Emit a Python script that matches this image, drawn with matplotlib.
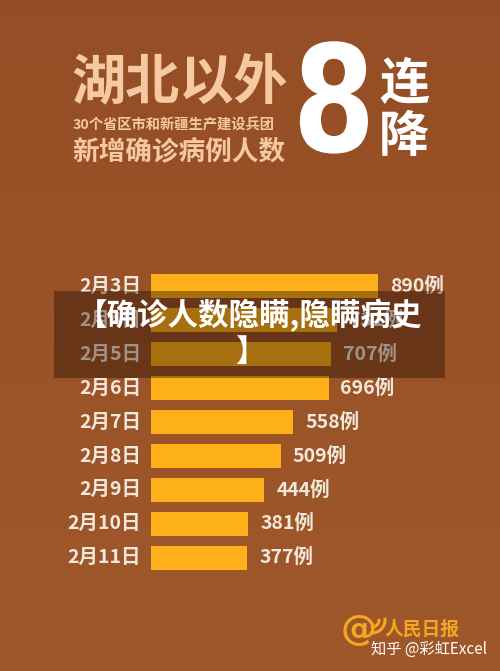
import matplotlib
matplotlib.use('Agg')
import matplotlib.pyplot as plt
import numpy as np
from matplotlib.patches import Rectangle, Arc
from matplotlib.patheffects import AbstractPathEffect
from matplotlib.transforms import Affine2D

plt.rcParams['font.family'] = ['Noto Sans CJK SC', 'DejaVu Sans']

# ---- data ----
dates = ['2月3日', '2月4日', '2月5日', '2月6日', '2月7日', '2月8日', '2月9日', '2月10日', '2月11日']
cases = [890, 731, 707, 696, 558, 509, 444, 381, 377]
value_labels = [f'{v}例' for v in cases]

title_main = '湖北以外'
subtitle1 = '30个省区市和新疆生产建设兵团'
subtitle2 = '新增确诊病例人数'
big_num = '8'
big_word = ['连', '降']
overlay_text = '【确诊人数隐瞒,隐瞒病史\n】'
watermark = '知乎 @彩虹Excel'
logo_text = '人民日报'

W, H = 500, 671
fig = plt.figure(figsize=(5, 6.71), dpi=100)


class SqueezeX(AbstractPathEffect):
    """Horizontally condense a text around display x = cx."""
    def __init__(self, sx, cx):
        super().__init__()
        self.sx = sx
        self.cx = cx

    def draw_path(self, renderer, gc, tpath, affine, rgbFace=None):
        aff = affine + Affine2D().translate(-self.cx, 0).scale(self.sx, 1).translate(self.cx, 0)
        renderer.draw_path(gc, tpath, aff, rgbFace)


# background
bg = fig.add_axes([0, 0, 1, 1])
bg.set_xlim(0, W)
bg.set_ylim(H, 0)
bg.axis('off')
grad = np.linspace(0, 1, 256)[:, None, None]
top = np.array([0.585, 0.305, 0.145])
bot = np.array([0.625, 0.345, 0.165])
img = top + (bot - top) * grad
bg.imshow(img, extent=[0, W, H, 0], aspect='auto', zorder=0)

peach = '#F6C9A2'
bg.text(71, 84, title_main, fontsize=39, color=peach, weight='heavy',
        ha='left', va='center', zorder=2)
bg.text(73, 125, subtitle1, fontsize=10.3, color=peach, weight='bold',
        ha='left', va='center', zorder=2)
bg.text(72, 152, subtitle2, fontsize=19.2, color=peach, weight='bold',
        ha='left', va='center', zorder=2)
bg.text(334, 110, big_num, fontsize=107, color='white', weight='bold',
        family=['DejaVu Sans'], ha='center', va='center', zorder=2,
        path_effects=[SqueezeX(0.8, 334)])
bg.text(404, 84, big_word[0], fontsize=36, color='white', weight='heavy',
        ha='center', va='center', zorder=2)
bg.text(404, 138, big_word[1], fontsize=36, color='white', weight='heavy',
        ha='center', va='center', zorder=2)

# bars axes: x 151..378 px for 0..890, rows centered 286.5 + i*33.9
row = 33.9
top_px = 286.5 - row / 2
bot_px = 286.5 + 8 * row + row / 2
ax = fig.add_axes([151 / W, 1 - bot_px / H, (378 - 151) / W, (bot_px - top_px) / H])
ax.patch.set_alpha(0)
ax.barh(range(len(cases)), cases, height=24 / row, color='#FDB017', zorder=3)
ax.set_xlim(0, 890)
ax.set_ylim(len(cases) - 0.5, -0.5)
ax.axis('off')

label_col = '#F3E8DC'
for i, (d, v, lab) in enumerate(zip(dates, cases, value_labels)):
    ax.annotate(d, xy=(0, i), xytext=(-7.2, 0), textcoords='offset points',
                ha='right', va='center', fontsize=14, weight='bold',
                color=label_col, annotation_clip=False)
    ax.annotate(lab, xy=(v, i), xytext=(8.6, 0), textcoords='offset points',
                ha='left', va='center', fontsize=14, weight='bold',
                color=label_col, annotation_clip=False)

# overlay on top of everything
ov = fig.add_axes([0, 0, 1, 1])
ov.set_xlim(0, W)
ov.set_ylim(H, 0)
ov.axis('off')
ov.patch.set_alpha(0)
ov.add_patch(Rectangle((54, 291), 391, 87, facecolor='#1a0800', alpha=0.38,
                       edgecolor='none'))
ov.text(250, 333, overlay_text, fontsize=22, color='white', weight='bold',
        ha='center', va='center', multialignment='center', linespacing=1.15)

# logo
orange = '#F5A623'
ov.text(359, 630, '@', fontsize=26, color=orange, weight='bold',
        family=['DejaVu Sans'], ha='center', va='center')
ov.add_patch(Arc((372, 620), 14, 14, theta1=-10, theta2=100, color=orange, lw=2.2))
ov.add_patch(Arc((372, 620), 26, 26, theta1=-10, theta2=100, color=orange, lw=2.2))
ov.text(384, 629, logo_text, fontsize=13.5, color=orange, weight='heavy',
        ha='left', va='center')

# watermark
ov.text(371, 649, watermark, fontsize=11, color='white', ha='left', va='center')

fig.savefig('out.png', dpi=100)
